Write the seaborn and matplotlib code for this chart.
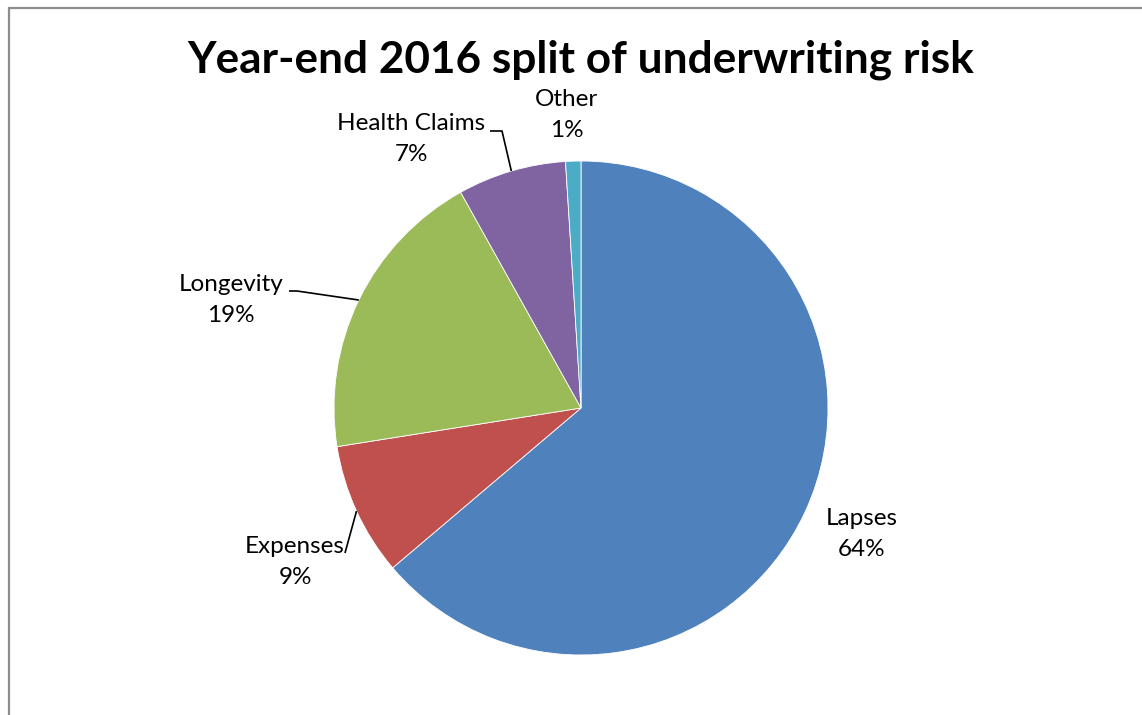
import matplotlib
matplotlib.use("Agg")
import matplotlib.pyplot as plt
import seaborn as sns
import numpy as np
from matplotlib.patches import Rectangle

# ---- data ----
categories = ["Lapses", "Expenses", "Longevity", "Health Claims", "Other"]
shares = [63.8, 8.7, 19.4, 7.1, 1.0]
colors = ["#4F81BD", "#C0504D", "#9BBB59", "#8064A2", "#4BACC6"]
title = "Year-end 2016 split of underwriting risk"

sns.set_theme(style="white")
plt.rcParams["font.family"] = ["Lato", "DejaVu Sans"]

W, H = 1142, 715
fig = plt.figure(figsize=(W / 100, H / 100), dpi=100)
ax = fig.add_axes([0, 0, 1, 1])

def P(x, y):
    """pixel (y down) -> data coords (y up)"""
    return x, H - y

cx, cy = P(581, 408)
R = 247
wedges, _ = ax.pie(shares, colors=sns.color_palette(colors), startangle=90,
                   counterclock=False, radius=R, center=(cx, cy),
                   wedgeprops=dict(linewidth=0.6, edgecolor="white"))
ax.set_xlim(0, W)
ax.set_ylim(0, H)
ax.set_aspect("auto")
ax.axis("off")

# label layout (pixel positions of text centres) and leader starts
label_pos = {
    "Lapses": (862, 534),
    "Expenses": (295, 562),
    "Longevity": (231, 300),
    "Health Claims": (411, 139),
    "Other": (567, 115),
}
leaders = {
    "Expenses": [(345, 553)],
    "Longevity": [(289, 291), (297, 291)],
    "Health Claims": [(490, 131), (502, 131)],
}

for w, cat, v in zip(wedges, categories, shares):
    tx, ty = P(*label_pos[cat])
    ax.text(tx, ty, f"{cat}\n{round(v)}%", ha="center", va="center",
            fontsize=17.5, color="#000000", linespacing=1.6)
    if cat in leaders:
        mid = np.deg2rad((w.theta1 + w.theta2) / 2)
        ex, ey = cx + R * np.cos(mid), cy + R * np.sin(mid)
        pts = [P(*p) for p in leaders[cat]] + [(ex, ey)]
        xs, ys = zip(*pts)
        ax.plot(xs, ys, color="black", linewidth=1.2, solid_capstyle="butt")

tx, ty = P(581, 60)
ax.text(tx, ty, title, ha="center", va="center", fontsize=31.8,
        fontweight="bold", color="black")

# chart-area border (extends past right/bottom edges)
fig.patches.append(Rectangle((8.5 / W, -0.1), 1.2, (H - 7.5) / H + 0.1,
                             transform=fig.transFigure, fill=False,
                             edgecolor="#8C8C8C", linewidth=1.6))

fig.savefig("out.png", dpi=100, facecolor="white")
